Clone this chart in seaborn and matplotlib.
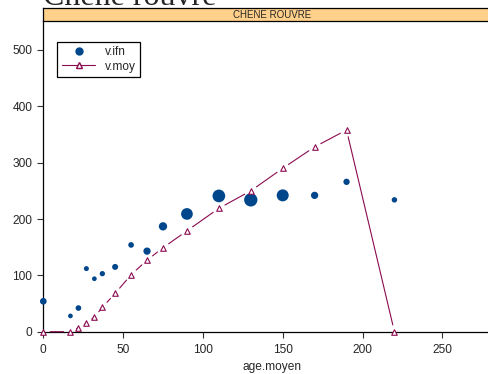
import matplotlib
matplotlib.use("Agg")
import matplotlib.pyplot as plt
from matplotlib.lines import Line2D
import numpy as np
import pandas as pd
import seaborn as sns

# --- data -----------------------------------------------------------------
titre = "Chene rouvre"
essence = "CHENE ROUVRE"

# observed volumes (v.ifn) by mean age, with a weight for the dot size
age_ifn = [0, 17, 22, 27, 32, 37, 45, 55, 65, 75, 90, 110, 130, 150, 170, 190, 220]
v_ifn = [54, 28, 42, 112, 94, 103, 115, 154, 143, 187, 209, 241, 234, 242, 242, 266, 234]
poids = [45, 22, 32, 25, 22, 28, 36, 32, 53, 69, 137, 161, 177, 144, 53, 40, 30]

# mean volume curve (v.moy)
age_moy = [0, 17, 22, 27, 32, 37, 45, 55, 65, 75, 90, 110, 130, 150, 170, 190, 220]
v_moy = [0, 0, 7, 15, 26, 43, 68, 101, 127, 149, 179, 219, 250, 290, 328, 358, 0]

x_ticks = [0, 50, 100, 150, 200, 250]
y_ticks = [0, 100, 200, 300, 400, 500]

df_ifn = pd.DataFrame({"age.moyen": age_ifn, "v.ifn": v_ifn, "poids": poids})
df_moy = pd.DataFrame({"age.moyen": age_moy, "v.moy": v_moy})

# --- style ----------------------------------------------------------------
sns.set_style("ticks")
plt.rcParams["font.family"] = ["Liberation Sans", "DejaVu Sans"]

blue = "#00468B"
wine = "#8B0A50"

W, H = 489, 374
fig = plt.figure(figsize=(W / 100, H / 100), dpi=100)

x0, x1 = 43.3, 500.0
y_bot, y_top = 331.7, 21.3
ax = fig.add_axes([x0 / W, (H - y_bot) / H, (x1 - x0) / W, (y_bot - y_top) / H])

# observed points, sized by weight
sns.scatterplot(data=df_ifn, x="age.moyen", y="v.ifn", size="poids",
                sizes=(11.4, 91.7), color=blue, linewidth=0, legend=False,
                ax=ax, clip_on=False, zorder=3)

# mean curve: segments stop short of each point
for (xa, ya), (xb, yb) in zip(zip(age_moy[:-1], v_moy[:-1]), zip(age_moy[1:], v_moy[1:])):
    ax.annotate("", xy=(xb, yb), xytext=(xa, ya),
                arrowprops=dict(arrowstyle="-", color=wine, lw=0.8,
                                shrinkA=5.0, shrinkB=5.0),
                annotation_clip=False, zorder=4)

sns.scatterplot(data=df_moy, x="age.moyen", y="v.moy", marker="^", s=16,
                facecolor="white", edgecolor=wine, linewidth=0.8,
                ax=ax, clip_on=False, zorder=5)

ax.set_xlim(0, (x1 - x0) / 1.596)
ax.set_ylim(0, (y_bot - y_top) / 0.5634)
ax.set_xticks(x_ticks)
ax.set_yticks(y_ticks)
ax.tick_params(axis="both", labelsize=8.6, length=4, width=0.8, color="#333333", pad=4)
ax.tick_params(axis="x", pad=5)
ax.set_xlabel("age.moyen", fontsize=8.6, labelpad=3.5)
ax.set_ylabel("")
for side in ("top", "right"):
    ax.spines[side].set_visible(False)
for side in ("left", "bottom"):
    ax.spines[side].set_linewidth(0.9)
    ax.spines[side].set_color("black")

# strip with the species name
s_top, s_bot = 8.3, 21.3
sax = fig.add_axes([x0 / W, (H - s_bot) / H, (x1 - x0) / W, (s_bot - s_top) / H])
sax.set_facecolor("#FFD08A")
sax.set_xticks([])
sax.set_yticks([])
for sp in sax.spines.values():
    sp.set_linewidth(0.9)
    sp.set_color("black")
sax.text(0.5, 0.5, essence, ha="center", va="center", fontsize=7,
         transform=sax.transAxes)

# legend
handles = [
    Line2D([], [], marker="o", linestyle="none", color=blue, markersize=5),
    Line2D([], [], marker="^", color=wine, lw=0.8, markersize=4,
           markerfacecolor="white", markeredgecolor=wine),
]
leg = ax.legend(handles, ["v.ifn", "v.moy"], loc="upper left",
                bbox_to_anchor=(57.3 / W, 1 - 41.7 / H), bbox_transform=fig.transFigure,
                fontsize=8.6, frameon=True, fancybox=False, framealpha=1,
                edgecolor="black", handlelength=2.8, handletextpad=0.8,
                labelspacing=0.2, borderpad=0.38, borderaxespad=0)
leg.get_frame().set_linewidth(0.9)

fig.text(x0 / W, 1 - 4.8 / H, titre, fontsize=23, family="Liberation Serif",
         va="baseline", ha="left")

fig.savefig("out.png", dpi=100)
